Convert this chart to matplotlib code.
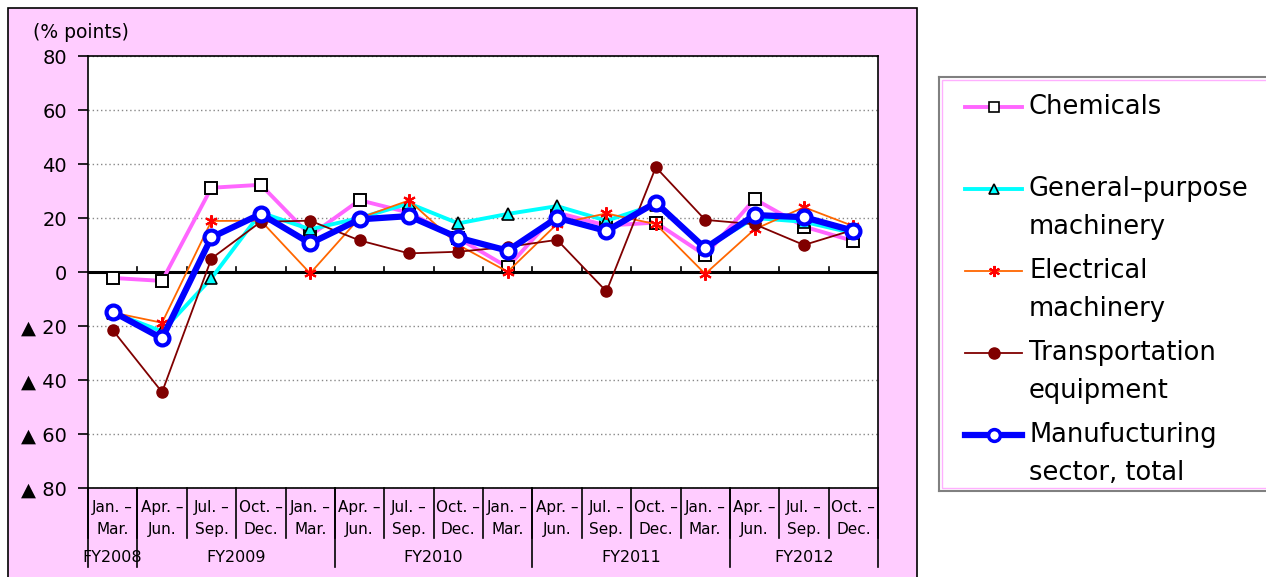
import numpy as np
import matplotlib
matplotlib.use("Agg")
import matplotlib.pyplot as plt
from matplotlib.patches import Rectangle
from matplotlib.lines import Line2D
import matplotlib.transforms as mtransforms

plt.rcParams['font.family'] = ['DejaVu Sans', 'Noto Sans CJK JP']

# quarters (Jan.-Mar. FY2008 ... Oct.-Dec. FY2012)
quarter_top = ["Jan. –", "Apr. –", "Jul. –", "Oct. –"] * 4
quarter_top = quarter_top[:16]
quarter_bottom = ["Mar.", "Jun.", "Sep.", "Dec."] * 4
quarter_bottom = quarter_bottom[:16]
fiscal_years = ["FY2008", "FY2009", "FY2010", "FY2011", "FY2012"]
fy_sizes = [1, 4, 4, 4, 3]

chemicals = [-2.2, -3.3, 31.2, 32.3, 13.5, 26.6, 22.0, 12.5, 1.8, 22.0, 17.2, 18.3, 6.2, 27.0, 16.8, 11.5]
general = [-15.0, -22.0, -2.3, 22.0, 15.8, 20.0, 25.4, 18.0, 21.5, 24.4, 19.0, 25.0, 9.0, 20.0, 18.6, 14.4]
electrical = [-15.0, -18.8, 18.9, 19.0, -0.5, 20.0, 26.5, 10.0, 0.1, 17.8, 21.7, 17.7, -0.7, 15.8, 24.0, 17.0]
transport = [-21.5, -44.5, 5.0, 18.6, 19.0, 11.7, 6.9, 7.5, 9.3, 11.9, -7.2, 38.8, 19.3, 17.7, 10.0, 15.6]
manufacturing = [-14.7, -24.6, 12.8, 21.5, 10.6, 19.5, 20.7, 12.7, 7.9, 20.1, 15.2, 25.7, 8.8, 21.1, 20.3, 15.3]

y_ticks = [80, 60, 40, 20, 0, -20, -40, -60, -80]
y_ticklabels = ["80", "60", "40", "20", "0", "▲ 20", "▲ 40", "▲ 60", "▲ 80"]

W, H = 1266, 577
fig = plt.figure(figsize=(W / 100, H / 100), dpi=100)
fig.patch.set_facecolor("white")

# pink chart area (behind the axes)
fig.patches.append(Rectangle((8 / W, -0.01), 909 / W, 1 - 8 / H + 0.01, transform=fig.transFigure,
                             facecolor="#FFCCFF", edgecolor="black", lw=1.2, zorder=-10))

ax = fig.add_axes([88 / W, 89 / H, 790 / W, 432 / H])
ax.set_facecolor("white")
x = np.arange(len(chemicals))

ax.plot(x, chemicals, color="#FF66FF", lw=2.8, marker="s", ms=9, mfc="white", mec="black", mew=1.4, zorder=3)
ax.plot(x, general, color="#00FFFF", lw=2.8, marker="^", ms=8, mfc="#00FFFF", mec="black", mew=1.2, zorder=3)
ax.plot(x, electrical, color="#FF6600", lw=1.3, marker=(6, 2, 0), ms=9, mec="red", mew=1.5, zorder=4)
ax.plot(x, transport, color="#800000", lw=1.3, marker="o", ms=8, mfc="#800000", mec="#800000", zorder=4)
ax.plot(x, manufacturing, color="#0000FF", lw=4.5, marker="o", ms=10, mfc="white", mec="#0000FF", mew=3, zorder=5)

ax.set_xlim(-0.5, len(chemicals) - 0.5)
ax.set_ylim(-80, 80)
ax.set_yticks(y_ticks)
ax.set_yticklabels(y_ticklabels, fontsize=14)
ax.tick_params(axis="y", direction="out", length=7, width=1.2, pad=8)
ax.set_xticks([])
for yv in y_ticks:
    if yv != 0:
        ax.axhline(yv, color="#888888", lw=1, ls=(0, (1, 2)), zorder=1)
ax.axhline(0, color="black", lw=2.2, zorder=2)
# small ticks on the zero line
for b in np.arange(0.5, len(chemicals) - 0.5):
    ax.plot([b, b], [0, 2], color="black", lw=1.2, zorder=2)
for s in ax.spines.values():
    s.set_color("black")
    s.set_linewidth(1.2)

fig.text(33 / W, 1 - 33 / H, "(% points)", fontsize=13.5, ha="left", va="center")

# category labels below the axis
trans = mtransforms.blended_transform_factory(ax.transData, ax.transAxes)
for i in x:
    ax.text(i, -0.044, quarter_top[i], transform=trans, ha="center", va="center", fontsize=11)
    ax.text(i, -0.095, quarter_bottom[i], transform=trans, ha="center", va="center", fontsize=11)
for b in np.arange(-0.5, len(chemicals)):
    ax.plot([b, b], [0, -0.116], transform=trans, color="black", lw=1.2, clip_on=False)
start = -0.5
ax.plot([start, start], [0, -0.183], transform=trans, color="black", lw=1.2, clip_on=False)
for name, n in zip(fiscal_years, fy_sizes):
    end = start + n
    ax.plot([end, end], [0, -0.183], transform=trans, color="black", lw=1.2, clip_on=False)
    ax.text((start + end) / 2, -0.16, name, transform=trans, ha="center", va="center", fontsize=11.5)
    start = end

# legend drawn in pixel coordinates
lg = fig.add_axes([939 / W, (H - 491) / H, 340 / W, 414 / H])
lg.set_xlim(939, 1279)
lg.set_ylim(491, 77)
lg.set_xticks([])
lg.set_yticks([])
lg.set_facecolor("white")
for s in lg.spines.values():
    s.set_color("#808080")
    s.set_linewidth(1.5)
lg.add_patch(Rectangle((942, 80), 340, 408, facecolor="none", edgecolor="#FFB0FF", lw=1))

entries = [
    ("Chemicals", "", dict(color="#FF66FF", lw=2.8, marker="s", ms=7, mfc="white", mec="black", mew=1.2)),
    ("General–purpose", "machinery", dict(color="#00FFFF", lw=2.8, marker="^", ms=6.5, mfc="#00FFFF", mec="black", mew=1.2)),
    ("Electrical", "machinery", dict(color="#FF6600", lw=1.3, marker=(6, 2, 0), ms=8, mec="red", mew=1.5)),
    ("Transportation", "equipment", dict(color="#800000", lw=1.3, marker="o", ms=8, mfc="#800000", mec="#800000")),
    ("Manufucturing", "sector, total", dict(color="#0000FF", lw=4.5, marker="o", ms=8.5, mfc="white", mec="#0000FF", mew=2.5)),
]
for k, (l1, l2, style) in enumerate(entries):
    yc = 107 + 82 * k
    lg.add_line(Line2D([965, 994, 1022], [yc, yc, yc], markevery=[1], **style))
    lg.text(1029, yc, l1, fontsize=18.5, ha="left", va="center")
    if l2:
        lg.text(1029, yc + 38, l2, fontsize=18.5, ha="left", va="center")

fig.savefig("out.png", dpi=100)
